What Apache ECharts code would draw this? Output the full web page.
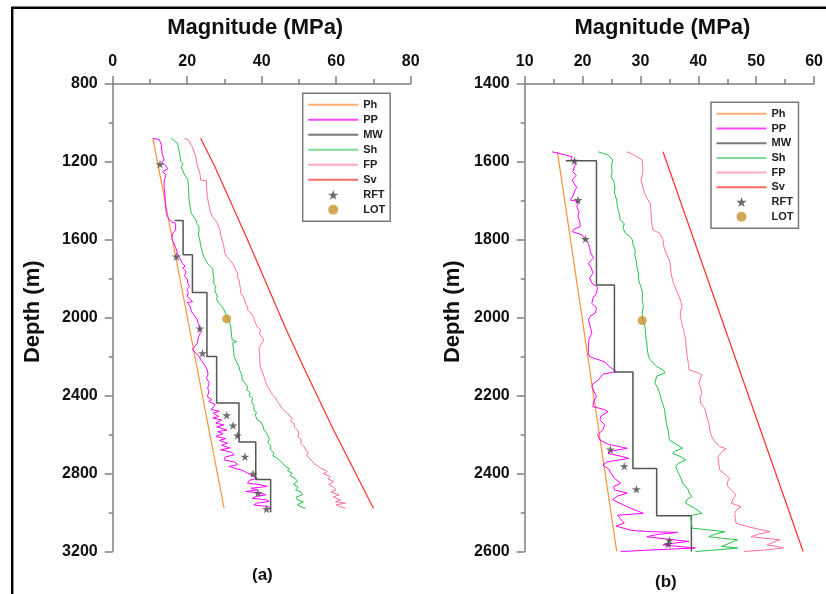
<!DOCTYPE html>
<html><head><meta charset="utf-8">
<script src="https://cdn.jsdelivr.net/npm/echarts@6/dist/echarts.min.js"></script>
<style>html,body{margin:0;padding:0;background:#fff}#c{width:826px;height:594px}</style>
</head><body><div id="c"></div>
<script>
// ---------- axis ticks ----------
const aXTicks = [0, 20, 40, 60, 80];
const aYTicks = [800, 1200, 1600, 2000, 2400, 2800, 3200];
const bXTicks = [10, 20, 30, 40, 50, 60];
const bYTicks = [1400, 1600, 1800, 2000, 2200, 2400, 2600];

// ---------- panel (a) : [depth (m), magnitude (MPa)] ----------
const a_Ph = [[1079,10.8],[2978,29.9]];
const a_Sv = [[1079,23.6],[1224,27.4],[1600,36.2],[2062,46.6],[2268,51.6],[2576,59.3],[2978,70.0]];
const a_MW = [[1501,16.6],[1501,18.9],[1677,18.9],[1677,21.4],[1870,21.4],[1870,25.3],[2199,25.3],[2199,27.9],[2438,27.9],[2438,33.9],[2638,33.9],[2638,38.4],[2831,38.4],[2831,42.4],[2999,42.4]];
const a_PP = [[1079,10.8],[1085,12.5],[1090,12.9],[1110,13.0],[1140,13.2],[1160,13.3],[1190,13.8],[1205,13.2],[1215,14.0],[1225,14.2],[1235,14.8],[1242,14.6],[1250,13.4],[1258,13.3],[1265,14.3],[1275,13.9],[1300,13.8],[1330,13.8],[1360,14.0],[1400,14.1],[1430,14.2],[1460,14.4],[1481,14.7],[1495,15.2],[1507,15.7],[1515,16.9],[1530,16.9],[1549,16.9],[1565,16.2],[1580,15.9],[1601,16.0],[1620,16.5],[1640,16.9],[1669,17.4],[1690,17.9],[1705,18.3],[1720,18.7],[1735,19.5],[1745,18.8],[1760,19.6],[1772,19.6],[1785,19.2],[1800,20.0],[1810,19.5],[1823,20.2],[1840,20.6],[1855,19.9],[1870,20.3],[1891,20.0],[1905,20.8],[1917,21.4],[1922,20.0],[1930,20.3],[1945,20.9],[1960,21.0],[1977,21.4],[1990,22.0],[2011,22.7],[2030,23.0],[2050,23.3],[2062,23.4],[2080,23.5],[2100,23.0],[2131,22.7],[2150,21.9],[2165,21.4],[2180,22.3],[2199,23.2],[2220,23.8],[2240,24.6],[2268,25.4],[2290,25.6],[2310,25.2],[2336,25.9],[2360,25.5],[2380,25.8],[2405,25.4],[2420,26.6],[2430,25.8],[2445,27.5],[2456,27.2],[2470,26.4],[2480,28.6],[2490,27.0],[2507,28.5],[2515,26.9],[2525,29.2],[2541,27.7],[2550,29.8],[2560,27.9],[2576,30.7],[2585,28.2],[2595,29.6],[2610,27.7],[2620,30.4],[2630,28.6],[2644,30.8],[2655,29.2],[2668,31.5],[2678,29.0],[2690,31.9],[2704,32.6],[2715,30.2],[2730,29.9],[2742,33.0],[2755,33.5],[2763,31.2],[2772,30.8],[2785,35.0],[2798,36.2],[2810,37.4],[2824,38.8],[2835,36.6],[2849,36.2],[2857,39.6],[2866,41.5],[2875,37.2],[2884,38.9],[2892,35.7],[2900,39.8],[2909,41.1],[2918,38.4],[2926,37.5],[2935,41.2],[2943,42.0],[2952,38.6],[2961,37.9],[2969,41.7],[2978,42.4]];
const a_Sh = [[1079,15.7],[1090,16.5],[1105,17.4],[1125,17.6],[1150,17.9],[1173,18.1],[1195,18.2],[1210,18.9],[1224,18.4],[1245,18.8],[1267,19.3],[1280,19.9],[1293,20.2],[1320,20.3],[1350,20.4],[1395,20.5],[1430,20.8],[1464,21.1],[1480,21.7],[1498,22.3],[1515,22.6],[1530,23.1],[1549,23.2],[1575,23.0],[1601,23.4],[1630,23.6],[1650,23.9],[1669,24.1],[1690,24.6],[1705,25.0],[1720,25.4],[1735,26.2],[1746,26.8],[1760,26.9],[1780,27.0],[1806,27.2],[1825,27.1],[1840,27.7],[1855,27.4],[1874,27.7],[1890,28.1],[1905,27.9],[1926,28.5],[1940,29.3],[1960,29.9],[1975,30.2],[1994,30.6],[2015,31.2],[2030,31.5],[2045,31.7],[2070,31.8],[2095,31.9],[2114,32.1],[2122,33.3],[2130,32.2],[2157,32.4],[2180,32.5],[2199,32.6],[2225,33.2],[2251,33.9],[2270,34.1],[2290,34.6],[2319,34.8],[2335,35.5],[2353,36.2],[2370,36.0],[2385,36.9],[2400,36.6],[2415,37.6],[2430,37.2],[2450,37.9],[2473,37.9],[2485,38.6],[2500,38.3],[2524,38.8],[2535,39.8],[2545,39.3],[2560,40.4],[2576,40.6],[2590,41.2],[2600,40.8],[2615,41.9],[2627,42.0],[2640,41.6],[2655,42.4],[2678,42.4],[2695,43.3],[2710,43.0],[2721,44.2],[2735,45.0],[2750,45.8],[2764,46.4],[2775,47.5],[2785,46.9],[2798,48.2],[2810,47.6],[2825,49.0],[2841,49.6],[2855,48.5],[2870,49.8],[2884,49.1],[2895,50.5],[2909,50.9],[2920,49.3],[2935,49.6],[2945,51.2],[2952,51.5],[2960,49.6],[2969,49.8],[2975,51.0],[2978,51.8]];
const a_FP = [[1079,19.3],[1088,20.3],[1096,20.8],[1120,21.3],[1150,21.9],[1173,22.3],[1200,22.5],[1233,22.9],[1245,23.2],[1258,23.4],[1275,23.5],[1293,23.6],[1296,25.2],[1320,25.2],[1350,25.3],[1378,25.4],[1410,25.7],[1447,26.1],[1465,26.4],[1481,26.8],[1500,27.6],[1515,28.1],[1530,28.4],[1549,28.8],[1575,29.0],[1601,29.4],[1630,29.8],[1669,30.1],[1690,30.8],[1705,31.5],[1720,32.1],[1735,32.6],[1755,33.0],[1770,33.6],[1790,33.4],[1806,33.9],[1830,34.1],[1850,34.3],[1874,34.4],[1890,35.0],[1909,35.4],[1930,35.7],[1945,36.3],[1960,36.2],[1975,37.0],[1994,37.8],[2010,38.0],[2030,38.4],[2045,38.7],[2062,39.7],[2080,39.4],[2100,40.1],[2114,40.6],[2135,39.9],[2157,39.3],[2180,39.4],[2210,39.5],[2251,39.6],[2275,40.1],[2302,40.6],[2325,41.0],[2353,41.5],[2375,42.3],[2396,42.9],[2412,43.7],[2430,44.2],[2448,44.9],[2465,45.5],[2478,46.1],[2490,46.9],[2505,47.6],[2516,48.2],[2530,47.7],[2545,48.8],[2559,48.7],[2575,49.6],[2593,50.0],[2610,49.7],[2625,50.6],[2644,50.5],[2660,51.3],[2678,51.8],[2690,52.5],[2705,52.1],[2721,52.7],[2735,53.5],[2747,54.0],[2760,55.0],[2772,55.8],[2782,57.0],[2790,57.6],[2800,56.5],[2815,58.5],[2828,57.8],[2841,59.4],[2855,58.0],[2870,59.3],[2884,59.9],[2895,58.6],[2909,60.8],[2920,59.2],[2935,61.2],[2945,59.8],[2952,62.5],[2960,60.0],[2969,60.8],[2978,62.5]];
const a_RFT = [[1212,12.7],[1686,17.1],[2055,23.4],[2182,24.1],[2500,30.6],[2553,32.3],[2604,33.5],[2713,35.5],[2801,37.7],[2900,39.0],[2982,41.3]];
const a_LOT = [[2006,30.6]];

// ---------- panel (b) ----------
const b_Ph = [[1574,15.66],[2600,25.9]];
const b_Sv = [[1574,33.9],[2600,58.1]];
const b_MW = [[1597,17.1],[1597,22.4],[1916,22.4],[1916,25.5],[2139,25.5],[2139,28.7],[2387,28.7],[2387,32.8],[2508,32.8],[2508,38.8],[2600,38.8]];
const b_PP = [[1574,14.7],[1578,15.9],[1583,17.2],[1587,18.2],[1595,18.0],[1605,18.8],[1612,18.6],[1625,18.3],[1635,18.9],[1646,18.2],[1655,18.5],[1665,19.0],[1672,18.7],[1685,18.4],[1698,17.9],[1702,19.3],[1715,19.0],[1728,19.4],[1740,19.2],[1752,19.5],[1766,19.6],[1772,18.6],[1779,18.2],[1787,19.9],[1798,20.4],[1809,21.0],[1820,21.2],[1834,21.4],[1846,21.9],[1860,21.0],[1872,21.5],[1886,21.8],[1898,21.2],[1911,21.6],[1922,22.6],[1937,22.4],[1950,21.8],[1963,21.6],[1975,22.4],[1988,22.2],[1996,21.3],[2006,21.0],[2020,21.3],[2040,21.6],[2055,21.1],[2074,21.0],[2090,21.0],[2100,21.2],[2113,23.8],[2125,24.6],[2138,25.8],[2145,23.5],[2160,22.7],[2170,21.8],[2177,21.6],[2190,22.0],[2202,22.4],[2215,21.9],[2228,21.8],[2236,23.8],[2241,24.4],[2252,23.2],[2262,23.0],[2275,23.8],[2288,23.5],[2300,22.6],[2314,23.0],[2325,24.5],[2335,27.7],[2342,25.0],[2348,24.4],[2355,26.5],[2361,28.0],[2370,24.2],[2378,23.5],[2388,24.5],[2399,24.9],[2412,25.5],[2425,26.6],[2433,25.4],[2442,25.5],[2450,27.7],[2458,26.0],[2467,25.2],[2480,27.0],[2490,28.5],[2502,30.5],[2507,26.0],[2515,26.5],[2527,27.2],[2535,25.8],[2540,25.8],[2546,28.5],[2549,31.7],[2551,36.4],[2556,33.0],[2562,31.1],[2568,34.5],[2574,38.4],[2579,35.5],[2583,33.9],[2587,36.5],[2591,39.5],[2596,32.0],[2600,26.6]];
const b_Sh = [[1574,22.7],[1578,23.5],[1582,24.4],[1595,25.2],[1610,25.0],[1625,25.1],[1638,24.9],[1650,25.4],[1663,25.6],[1680,25.5],[1698,25.9],[1715,26.0],[1730,26.3],[1749,26.5],[1758,27.2],[1770,27.0],[1783,27.4],[1792,28.2],[1800,28.6],[1812,28.7],[1826,29.1],[1840,29.0],[1855,29.3],[1869,29.4],[1885,29.6],[1903,29.7],[1918,30.0],[1937,30.4],[1952,30.3],[1971,30.5],[1988,30.3],[2006,30.4],[2023,30.8],[2045,30.9],[2065,31.1],[2083,31.2],[2100,31.4],[2108,31.7],[2125,32.8],[2135,34.0],[2142,34.2],[2150,32.8],[2168,32.5],[2180,33.0],[2194,33.3],[2215,33.7],[2237,34.2],[2255,34.3],[2271,34.5],[2290,34.8],[2314,35.0],[2325,36.2],[2335,37.3],[2342,36.0],[2348,35.6],[2357,37.0],[2365,37.8],[2374,36.5],[2382,36.1],[2400,36.6],[2412,37.0],[2425,37.3],[2440,38.2],[2450,38.4],[2459,38.9],[2467,38.0],[2476,37.8],[2490,39.5],[2502,40.6],[2506,39.2],[2510,38.7],[2525,38.8],[2540,38.9],[2545,42.0],[2549,44.6],[2555,43.0],[2562,41.8],[2566,44.0],[2570,46.8],[2578,45.5],[2587,44.0],[2591,46.8],[2596,43.0],[2600,39.5]];
const b_FP = [[1574,27.6],[1580,28.6],[1587,29.4],[1595,30.3],[1612,30.4],[1629,30.4],[1646,30.1],[1663,30.4],[1681,30.7],[1695,31.2],[1706,31.7],[1725,31.8],[1749,31.9],[1762,32.0],[1775,32.2],[1783,33.3],[1800,33.9],[1815,34.0],[1826,34.2],[1840,34.6],[1852,35.0],[1870,35.2],[1886,35.3],[1900,35.5],[1911,35.7],[1930,36.2],[1946,36.7],[1960,37.0],[1971,37.2],[1985,36.9],[1997,36.9],[2010,37.1],[2023,37.3],[2040,37.6],[2057,37.8],[2075,37.9],[2100,38.1],[2120,38.3],[2134,38.4],[2140,39.8],[2147,40.6],[2158,40.3],[2168,40.1],[2180,40.4],[2194,40.6],[2205,40.3],[2219,40.4],[2230,41.0],[2237,41.2],[2255,41.5],[2271,41.8],[2290,42.0],[2305,42.3],[2318,42.9],[2331,43.7],[2336,44.8],[2339,45.1],[2346,44.0],[2356,43.4],[2372,43.5],[2391,43.7],[2402,44.6],[2412,45.4],[2422,45.0],[2433,45.1],[2445,45.9],[2455,46.5],[2465,46.0],[2476,45.7],[2485,47.4],[2493,46.6],[2502,46.3],[2515,46.4],[2527,46.5],[2532,47.5],[2536,48.5],[2543,50.5],[2549,52.4],[2555,50.5],[2562,49.1],[2566,51.5],[2570,54.1],[2576,53.0],[2583,51.9],[2587,53.5],[2591,54.7],[2596,51.5],[2600,47.9]];
const b_RFT = [[1597,18.6],[1698,19.2],[1798,20.5],[2338,24.8],[2381,27.2],[2440,29.3],[2571,35.0],[2581,34.8]];
const b_LOT = [[2007,30.3]];

// ---------- styles ----------
const FONT = 'Arial, "Liberation Sans", sans-serif';
const C = {Ph:'#F7923A', PP:'#FF00FF', MW:'#555555', Sh:'#22C34A', FP:'#FF7099', Sv:'#FF2E2E', RFT:'#4a4a4a', LOT:'#C8922C'};
const LEG = {Ph:'#FFAE74', PP:'#FF44FF', MW:'#7a7a7a', Sh:'#7EDC96', FP:'#FFA9C2', Sv:'#FF6A6A'};
const STAR = 'path://M50,0L61,35L98,35L68,57L79,91L50,70L21,91L32,57L2,35L39,35Z';
const LINEICON = 'path://M0,0h1v0h-1z M0,4h50v2h-50z M0,10h1v0h-1z';
const AXC = '#808080';
const plain = v => String(v);

function xAxis(ticks, gi, padR) {
  return {
    type:'value', gridIndex:gi, position:'top',
    min:ticks[0], max:ticks[ticks.length-1], interval:ticks[1]-ticks[0],
    axisLine:{show:true, onZero:false, lineStyle:{color:AXC, width:1.5}},
    axisTick:{show:true, length:8, lineStyle:{color:AXC, width:1.5}},
    minorTick:{show:true, splitNumber:2, length:5, lineStyle:{color:AXC, width:1.5}},
    splitLine:{show:false}, minorSplitLine:{show:false},
    axisLabel:{fontSize:16, fontWeight:'bold', color:'#111', margin:14, fontFamily:FONT, formatter:plain},
    name:'Magnitude (MPa)', nameLocation:'middle', nameGap:45,
    nameTextStyle:{fontSize:22, fontWeight:'bold', color:'#111', fontFamily:FONT, padding:[0,padR,0,0]}
  };
}
function yAxis(ticks, gi, gap) {
  return {
    type:'value', gridIndex:gi, inverse:true,
    min:ticks[0], max:ticks[ticks.length-1], interval:ticks[1]-ticks[0],
    axisLine:{show:true, onZero:false, lineStyle:{color:AXC, width:1.5}},
    axisTick:{show:true, length:8, lineStyle:{color:AXC, width:1.5}},
    minorTick:{show:true, splitNumber:2, length:4, lineStyle:{color:AXC, width:1.5}},
    splitLine:{show:false}, minorSplitLine:{show:false},
    axisLabel:{fontSize:16, fontWeight:'bold', color:'#111', margin:15, fontFamily:FONT, formatter:plain},
    name:'Depth (m)', nameLocation:'middle', nameGap:gap,
    nameTextStyle:{fontSize:22, fontWeight:'bold', color:'#111', fontFamily:FONT, padding:[0,0,0,12]}
  };
}
function line(name, pts, gi, w) {
  return {type:'line', name, xAxisIndex:gi, yAxisIndex:gi, data:pts.map(p=>[p[1],p[0]]),
    symbol:'none', lineStyle:{color:C[name], width:w}, itemStyle:{color:C[name]}, animation:false};
}
function scatter(name, pts, gi, sym, size) {
  return {type:'scatter', name, xAxisIndex:gi, yAxisIndex:gi, data:pts.map(p=>[p[1],p[0]]),
    symbol:sym, symbolSize:size, symbolKeepAspect:true, itemStyle:{color:C[name]}, animation:false, z:5};
}
function legend(left, top, gap) {
  const lines = ['Ph','PP','MW','Sh','FP','Sv'].map(n => ({name:n, icon:LINEICON, itemStyle:{color:LEG[n], borderWidth:0}}));
  return {
    left, top, orient:'vertical', itemWidth:50, itemHeight:10, itemGap:gap,
    padding:[6,5,6,5.5], borderColor:'#7a7a7a', borderWidth:1.5, backgroundColor:'#fff',
    selectedMode:false, textStyle:{fontSize:11, fontWeight:'bold', color:'#222', fontFamily:FONT},
    data: lines.concat([
      {name:'RFT', icon:STAR, symbolKeepAspect:true, itemStyle:{color:'#444', borderWidth:0}},
      {name:'LOT', icon:'circle', itemStyle:{color:C.LOT, borderWidth:0}}
    ])
  };
}

const chart = echarts.init(document.getElementById('c'), null, {renderer:'canvas'});
chart.setOption({
  animation:false,
  backgroundColor:'#fff',
  grid:[
    {left:112.7, top:84, width:298, height:467.5},
    {left:524.7, top:84, width:297, height:467.5}
  ],
  xAxis:[xAxis(aXTicks,0,13), xAxis(bXTicks,1,14)],
  yAxis:[yAxis(aYTicks,0,69), yAxis(bYTicks,1,61)],
  legend:[legend(302.7,93.3,4), legend(711,102.3,3.7)],
  graphic:[
    {type:'rect', shape:{x:12.2, y:7.8, width:1000, height:1000}, style:{fill:'none', stroke:'#000', lineWidth:2.4}, silent:true},
    {type:'text', left:252, top:567, style:{text:'(a)', font:'bold 17px '+FONT, fill:'#111'}},
    {type:'text', left:655, top:574, style:{text:'(b)', font:'bold 17px '+FONT, fill:'#111'}}
  ],
  series:[
    line('Ph',a_Ph,0,1.2), line('PP',a_PP,0,1), line('MW',a_MW,0,1.5), line('Sh',a_Sh,0,1), line('FP',a_FP,0,1), line('Sv',a_Sv,0,1.2),
    scatter('RFT',a_RFT,0,STAR,9), scatter('LOT',a_LOT,0,'circle',9),
    line('Ph',b_Ph,1,1.2), line('PP',b_PP,1,1), line('MW',b_MW,1,1.5), line('Sh',b_Sh,1,1), line('FP',b_FP,1,1), line('Sv',b_Sv,1,1.2),
    scatter('RFT',b_RFT,1,STAR,9), scatter('LOT',b_LOT,1,'circle',9)
  ]
});
</script></body></html>
